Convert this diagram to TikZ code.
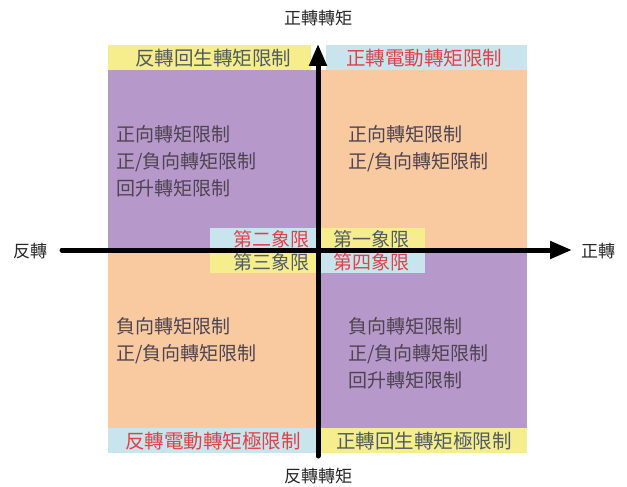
\documentclass[tikz,border=0pt]{standalone}
\usepackage{fontspec}
\setmainfont{Noto Sans CJK TC}
\usetikzlibrary{arrows.meta}
\definecolor{qpurple}{RGB}{182,152,203}
\definecolor{qorange}{RGB}{249,202,160}
\definecolor{qyellow}{RGB}{246,238,140}
\definecolor{qblue}{RGB}{200,228,236}
\definecolor{qred}{RGB}{226,64,72}
\definecolor{qdark}{RGB}{80,92,100}
\definecolor{qtext}{RGB}{78,68,80}
\begin{document}
\begin{tikzpicture}[x=1pt, y=-1pt, line cap=round, line join=round,
  band/.style={font=\fontsize{19.5}{19.5}\selectfont, inner sep=0pt},
  quad/.style={font=\fontsize{19}{19}\selectfont, inner sep=0pt},
  limit/.style={font=\fontsize{19}{27}\selectfont, align=left, anchor=north west, inner sep=0pt, text=qtext},
  axislabel/.style={font=\fontsize{17}{17}\selectfont, text=black!85},
  axis/.style={line width=5pt, -{Triangle[length=22pt,width=17pt]}}]
  \useasboundingbox (0,0) rectangle (627,487);

  % quadrants
  \fill[qpurple] (108,70) rectangle (318,250);
  \fill[qorange] (318,70) rectangle (527,250);
  \fill[qorange] (108,250) rectangle (318,428);
  \fill[qpurple] (318,250) rectangle (527,428);

  % bands
  \fill[qyellow] (108,45) rectangle (311,70);
  \fill[qblue]   (326,45) rectangle (527,70);
  \fill[qblue]   (108,428) rectangle (316,453);
  \fill[qyellow] (321,428) rectangle (527,453);

  % quadrant names
  \fill[qblue]   (210,228) rectangle (318,250);
  \fill[qyellow] (318,228) rectangle (425,250);
  \fill[qyellow] (210,250) rectangle (318,273);
  \fill[qblue]   (318,250) rectangle (425,273);

  \node[band, text=qdark] (revgen) at (213,58) {反轉回生轉矩限制};
  \node[band, text=qred] (fwdmot) at (424,58) {正轉電動轉矩限制};
  \node[band, text=qred] (revmot) at (213,441) {反轉電動轉矩極限制};
  \node[band, text=qdark] (fwdgen) at (424,441) {正轉回生轉矩極限制};

  \node[quad, text=qred]  (q2) at (271,239) {第二象限};
  \node[quad, text=qdark] (q1) at (371,239) {第一象限};
  \node[quad, text=qdark] (q3) at (271,262) {第三象限};
  \node[quad, text=qred]  (q4) at (371,262) {第四象限};

  \node[limit] (tl) at (116,125) {正向轉矩限制\\正/負向轉矩限制\\回升轉矩限制};
  \node[limit] (tr) at (348,125) {正向轉矩限制\\正/負向轉矩限制};
  \node[limit] (bl) at (116,317) {負向轉矩限制\\正/負向轉矩限制};
  \node[limit] (br) at (348,317) {負向轉矩限制\\正/負向轉矩限制\\回升轉矩限制};

  % axes
  \coordinate (W) at (62,250);
  \coordinate (E) at (572,250);
  \coordinate (S) at (318,456);
  \coordinate (N) at (318,44);
  \draw[axis] (W) -- (E);
  \draw[axis] (S) -- (N);

  \node[axislabel] (fwdtq) at (318,18) {正轉轉矩};
  \node[axislabel] (revtq) at (318,476) {反轉轉矩};
  \node[axislabel] (rev) at (30,251) {反轉};
  \node[axislabel] (fwd) at (598,251) {正轉};
\end{tikzpicture}
\end{document}
